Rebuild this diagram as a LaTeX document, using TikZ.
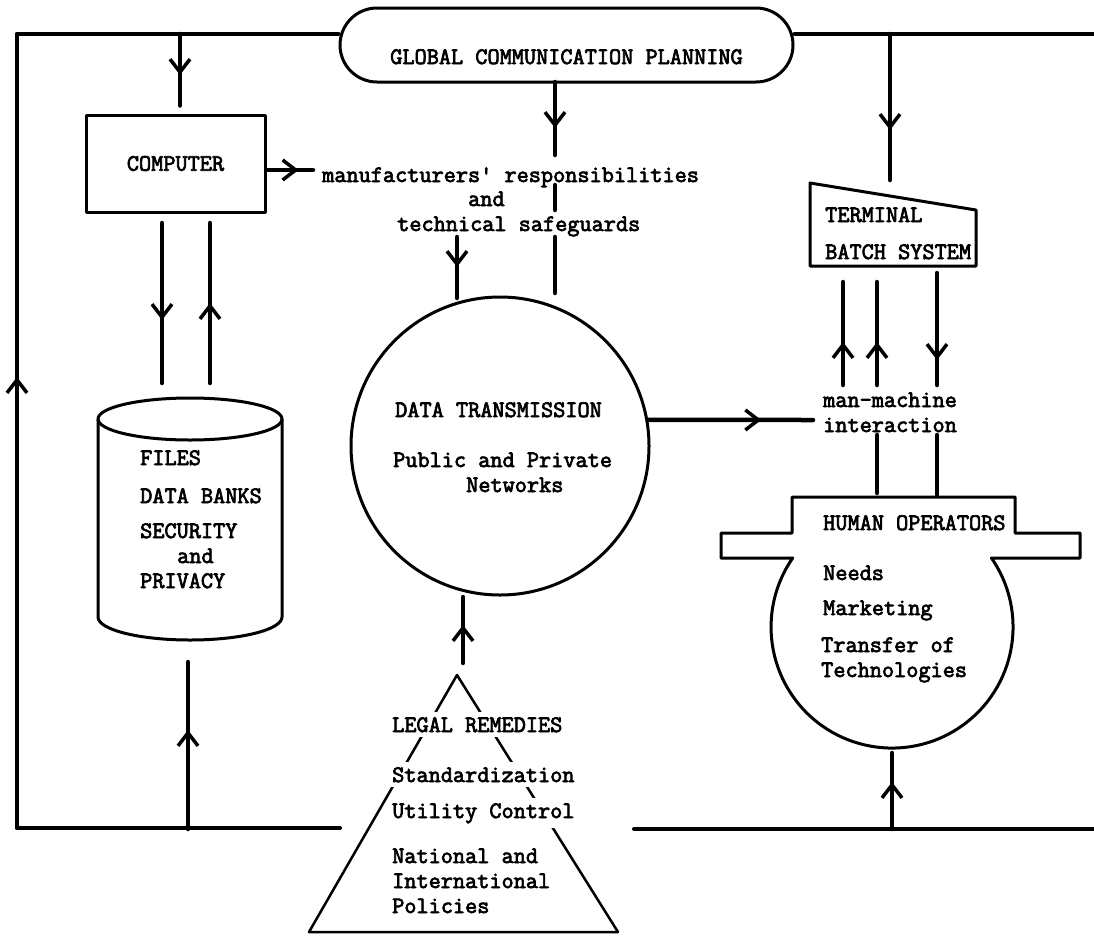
\documentclass[tikz,border=0pt]{standalone}
\usepackage{fontspec}
\newfontfamily\tw{Latin Modern Mono}[FakeBold=3]
\usetikzlibrary{arrows.meta,decorations.markings,calc}

\tikzset{
  frame/.style={line width=4pt, line cap=round},
  link/.style={line width=4.5pt, line cap=round},
  shapeline/.style={line width=3pt, line join=round},
  txtfont/.style={font=\tw\fontsize{23.6}{27}\selectfont},
  txt/.style={txtfont, inner sep=0pt, anchor=base west},
  mask/.style={txt, fill=white, inner xsep=2pt, inner ysep=5pt},
  chev/.tip={Straight Barb[length=13pt,width=20pt,line width=3.5pt]},
  tipat/.style={postaction={decorate},
    decoration={markings, mark=at position #1 with {\arrow{chev}}}},
  capsule/.style={draw, shapeline, rounded corners=37pt, minimum width=453pt,
    minimum height=74pt, inner sep=0pt, text height=38pt, text depth=0pt,
    txtfont},
  boxnode/.style={draw, shapeline, minimum width=179pt, minimum height=97pt,
    inner sep=0pt, txtfont},
}

\begin{document}
\begin{tikzpicture}[x=1pt,y=1pt]
\useasboundingbox (0,0) rectangle (1094,-935);

% ---- main boxes
\node[capsule] (gcp) at (566.5,-45) {GLOBAL COMMUNICATION PLANNING};
\node[boxnode] (comp) at (175.5,-163.5) {COMPUTER};
\node[draw, shapeline, circle, minimum size=298pt, inner sep=0pt] (dt) at (500,-446) {};

% terminal / batch system
\draw[shapeline] (810,-183) coordinate (termTL) -- (976,-210) -- (976,-266)
  -- (810,-266) -- cycle;

% files cylinder
\draw[shapeline] (98,-419) -- (98,-617)
  arc[start angle=180, end angle=360, x radius=92, y radius=23] -- (282,-419);
\draw[shapeline] (190,-419) ellipse[x radius=92, y radius=21];

% human operators vessel
\draw[shapeline] (792,-497) -- (1015,-497) -- (1015,-533) -- (1080,-533)
  -- (1080,-558) -- (991.4,-558)
  arc[start angle=34.8, end angle=-214.8, radius=121]
  -- (721,-558) -- (721,-533) -- (792,-533) -- cycle;

% legal remedies pyramid
\draw[line width=2.5pt, line join=round] (457,-675) coordinate (apex)
  -- (618,-932) -- (309,-932) -- cycle;

% ---- texts
\node[txt] (mfr) at (322,-182) {manufacturers' responsibilities};
\node[txt] (and1) at (468,-206) {and};
\node[txt] (tsg) at (397,-231) {technical safeguards};

\node[txt] (dt1) at (395,-417) {DATA TRANSMISSION};
\node[txt] (dt2) at (393,-467) {Public and Private};
\node[txt] (dt3) at (466,-492) {Networks};

\node[txt] (mm1) at (823,-407) {man-machine};
\node[txt] (mm2) at (823,-432) {interaction};

\node[txt] (tb1) at (825,-222) {TERMINAL};
\node[txt] (tb2) at (825,-259) {BATCH SYSTEM};

\node[txt] (ho0) at (823,-530) {HUMAN OPERATORS};
\node[txt] (ho1) at (823,-580) {Needs};
\node[txt] (ho2) at (823,-615) {Marketing};
\node[txt] (ho3) at (821,-652) {Transfer of};
\node[txt] (ho4) at (821,-677) {Technologies};

\node[txt] (fi1) at (140,-465) {FILES};
\node[txt] (fi2) at (140,-503) {DATA BANKS};
\node[txt] (fi3) at (140,-538) {SECURITY};
\node[txt] (fi4) at (177,-563) {and};
\node[txt] (fi5) at (140,-588) {PRIVACY};

\node[mask] (lr1) at (390,-732) {LEGAL REMEDIES};
\node[mask] (lr2) at (390,-782) {Standardization};
\node[mask] (lr3) at (390,-818) {Utility Control};
\node[mask] (lr4) at (390,-863) {National and};
\node[mask] (lr5) at (390,-888) {International};
\node[mask] (lr6) at (390,-913) {Policies};

% ---- frame lines
\coordinate (tl) at (17,-34);
\coordinate (bl) at (17,-828);
\coordinate (blEnd) at (340,-828);
\coordinate (trEnd) at (1094,-34);
\coordinate (brStart) at (634,-829);
\coordinate (brEnd) at (1094,-829);

\draw[frame] (tl) -- (gcp.west |- tl);
\draw[frame] (gcp.east |- tl) -- (trEnd);
\draw[frame, tipat=451pt] (bl) -- (tl);
\draw[frame] (bl) -- (blEnd);
\draw[frame] (brStart) -- (brEnd);

% ---- connectors
% planning -> computer
\coordinate (jComp) at (180,-34);
\draw[link, tipat=41pt] (jComp) -- ([yshift=8pt]comp.north -| jComp);
% computer -> manufacturers
\coordinate (mfrIn) at (313,-170);
\draw[link, tipat=32pt] ([yshift=-6.5pt]comp.east) -- (mfrIn);
% planning -> manufacturers / data transmission
\coordinate (gcpOut) at (555,-82);
\coordinate (gcpEnd) at (555,-155);
\draw[link, tipat=46pt] (gcpOut) -- (gcpEnd);
\coordinate (midA) at (555,-185);
\coordinate (midB) at (555,-210);
\draw[link] (midA) -- (midB);
\coordinate (tsgOut) at (555,-237);
\coordinate (dtInA) at (555,-293);
\draw[link] (tsgOut) -- (dtInA);
\coordinate (tsgOutB) at (457,-237);
\coordinate (dtInB) at (457,-298);
\draw[link, tipat=30pt] (tsgOutB) -- (dtInB);
% planning -> terminal
\coordinate (jTerm) at (890,-34);
\coordinate (termIn) at (890,-180);
\draw[link, tipat=96pt] (jTerm) -- (termIn);
% computer <-> files
\coordinate (cfA1) at (162,-223);
\coordinate (cfA2) at (162,-383);
\coordinate (cfB1) at (210,-383);
\coordinate (cfB2) at (210,-223);
\draw[link, tipat=97pt] (cfA1) -- (cfA2);
\draw[link, tipat=80pt] (cfB1) -- (cfB2);
% frame -> files
\coordinate (jFiles) at (188,-829);
\coordinate (filesIn) at (188,-662);
\draw[link, tipat=99pt] (jFiles) -- (filesIn);
% data transmission -> man-machine interaction
\coordinate (mmIn) at (813,-420);
\draw[link, tipat=113pt] (dt.10) -- (mmIn);
% terminal <-> man-machine interaction
\coordinate (tA1) at (843,-385);  \coordinate (tA2) at (843,-282);
\coordinate (tB1) at (877,-385);  \coordinate (tB2) at (877,-282);
\coordinate (tC1) at (937,-273);  \coordinate (tC2) at (937,-385);
\draw[link, tipat=43pt] (tA1) -- (tA2);
\draw[link, tipat=43pt] (tB1) -- (tB2);
\draw[link, tipat=87pt] (tC1) -- (tC2);
% man-machine interaction -- human operators
\coordinate (hA1) at (877,-435);  \coordinate (hA2) at (877,-493);
\coordinate (hB1) at (937,-435);  \coordinate (hB2) at (937,-495);
\draw[link] (hA1) -- (hA2);
\draw[link] (hB1) -- (hB2);
% frame -> human operators
\coordinate (jHum) at (892,-829);
\coordinate (humIn) at (892,-753);
\draw[link, tipat=47pt] (jHum) -- (humIn);
% legal remedies -> data transmission
\coordinate (lrOut) at (463,-663);
\coordinate (dtInC) at (463,-597);
\draw[link, tipat=38pt] (lrOut) -- (dtInC);

\end{tikzpicture}
\end{document}
